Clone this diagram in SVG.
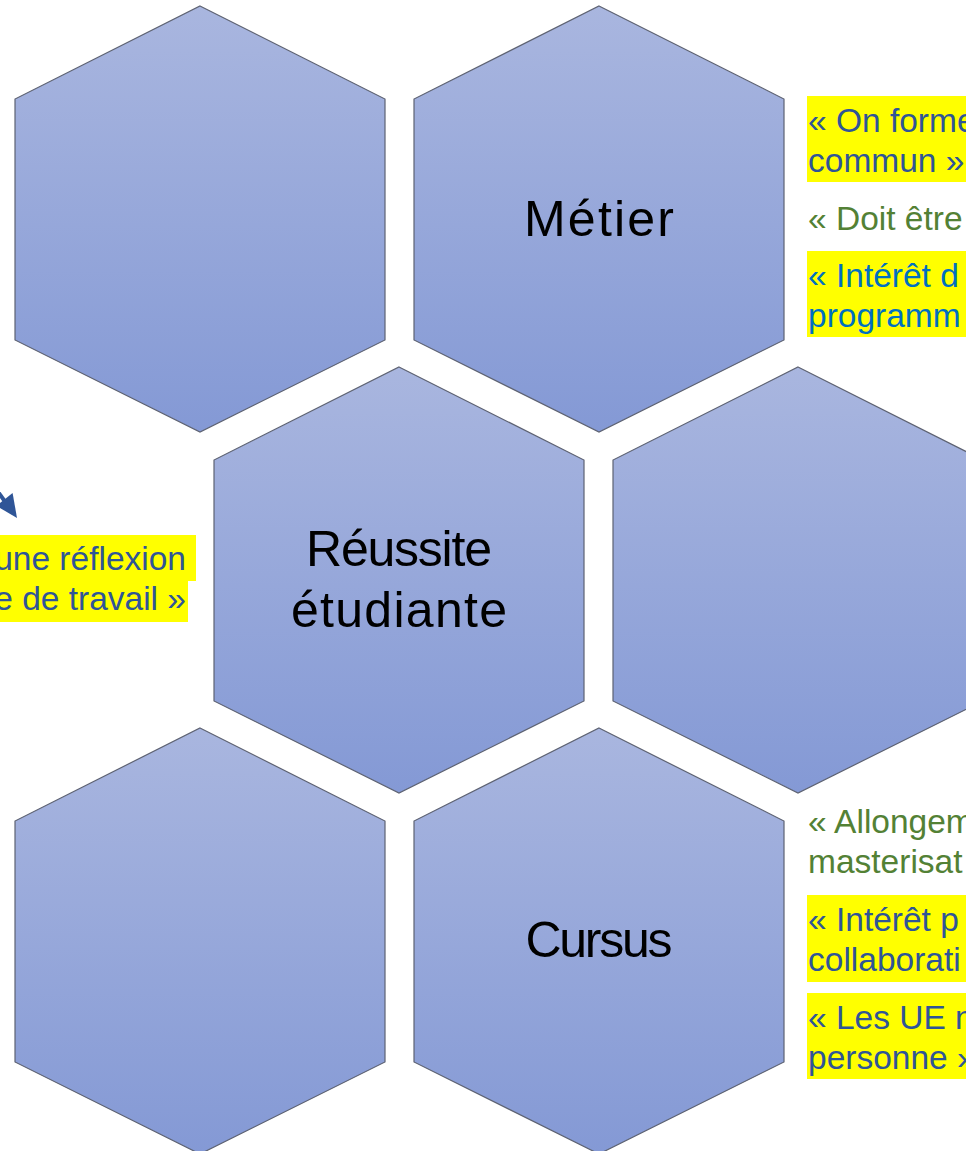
<svg xmlns="http://www.w3.org/2000/svg" width="966" height="1151" viewBox="0 0 966 1151">
<defs>
<linearGradient id="hexfill" x1="0" y1="0" x2="0" y2="1">
<stop offset="0" stop-color="#a9b6df"/>
<stop offset="1" stop-color="#8499d5"/>
</linearGradient>
<polygon id="hex" points="0,0 185,93 185,334 0,426 -185,334 -185,93"/>
<style>
.hexshape{fill:url(#hexfill);stroke:#5d6272;stroke-width:1.2}
.hl{font-family:"Liberation Sans",Arial,sans-serif;font-size:50px;fill:#000000;text-anchor:middle}
.side{font-family:"Liberation Sans",Arial,sans-serif;font-size:33.5px}
.dkblue{fill:#2f5597}
.blue{fill:#0070c0}
.green{fill:#538135}
.yel{fill:#ffff00}
</style>
</defs>
<rect width="966" height="1151" fill="#ffffff"/>

<g id="hex-top-left">
<use href="#hex" class="hexshape" x="200" y="6"/>
</g>
<g id="hex-metier">
<use href="#hex" class="hexshape" x="599" y="6"/>
<text class="hl" x="599" y="236" font-size="53" textLength="150">Métier</text>
</g>
<g id="hex-reussite">
<use href="#hex" class="hexshape" x="399" y="367"/>
<text class="hl" x="399" y="566" textLength="186">Réussite</text>
<text class="hl" x="399" y="627" textLength="216">étudiante</text>
</g>
<g id="hex-right">
<use href="#hex" class="hexshape" x="798" y="367"/>
</g>
<g id="hex-bottom-left">
<use href="#hex" class="hexshape" x="200" y="728"/>
</g>
<g id="hex-cursus">
<use href="#hex" class="hexshape" x="599" y="728"/>
<text class="hl" x="599" y="957" font-size="48" textLength="147">Cursus</text>
</g>

<g id="quotes-metier">
<rect class="yel" x="807" y="96" width="159" height="86"/>
<text class="side dkblue" x="808" y="132">« On forme</text>
<text class="side dkblue" x="808" y="172">commun »</text>
<text class="side green" x="808" y="230">« Doit être</text>
<rect class="yel" x="807" y="251" width="159" height="86"/>
<text class="side blue" x="808" y="287">« Intérêt d</text>
<text class="side blue" x="808" y="327">programm</text>
</g>

<g id="quotes-cursus">
<text class="side green" x="808" y="833">« Allongem</text>
<text class="side green" x="808" y="873">masterisat</text>
<rect class="yel" x="807" y="895" width="159" height="87"/>
<text class="side dkblue" x="808" y="931">« Intérêt p</text>
<text class="side dkblue" x="808" y="971">collaborati</text>
<rect class="yel" x="807" y="993" width="159" height="86"/>
<text class="side dkblue" x="808" y="1029">« Les UE n’</text>
<text class="side dkblue" x="808" y="1069">personne »</text>
</g>

<g id="quote-left">
<rect class="yel" x="0" y="535" width="196" height="46"/>
<rect class="yel" x="0" y="581" width="188" height="41"/>
<text class="side dkblue" x="186" y="570" text-anchor="end">une réflexion</text>
<text class="side dkblue" x="186" y="610" text-anchor="end">e de travail »</text>
</g>

<g id="connectors">
<line x1="-41" y1="437" x2="6" y2="503" stroke="#2f5597" stroke-width="4"/>
<polygon points="17,518 12.6,493 -3.6,506" fill="#2f5597"/>
</g>
</svg>
